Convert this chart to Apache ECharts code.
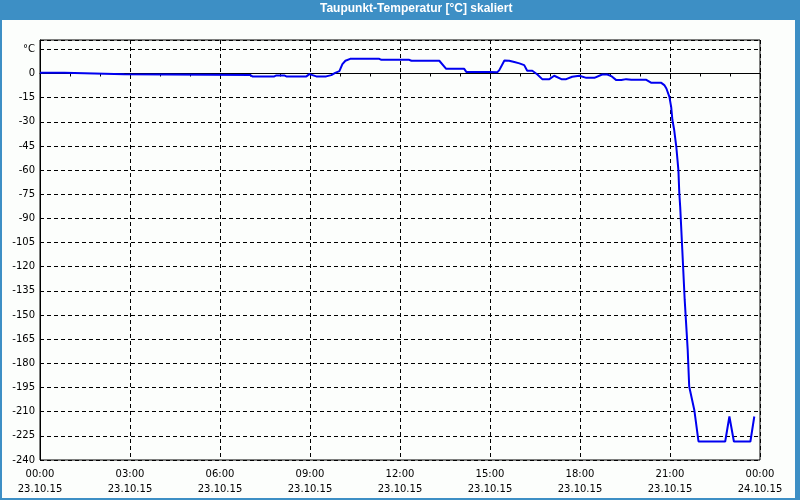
<!DOCTYPE html>
<html>
<head>
<meta charset="utf-8">
<script src="https://cdn.jsdelivr.net/npm/echarts@6/dist/echarts.min.js"></script>
<style>
html,body{margin:0;padding:0;background:#3d8fc5;}
#chart{width:800px;height:500px;}
</style>
</head>
<body>
<div id="chart"></div>
<script>
// Time of day in hours (23.10.15 00:00 = 0, 24.10.15 00:00 = 24)
var hours = [0, 0.81, 0.84, 2.81, 2.84, 7.01, 7.08, 7.81, 7.88, 8.14,
  8.21, 8.88, 8.98, 9.21, 9.54, 9.71, 9.84, 9.98, 10.08, 10.18,
  10.34, 11.31, 11.38, 12.31, 12.38, 13.31, 13.54, 14.14, 14.21, 14.98,
  15.04, 15.24, 15.31, 15.48, 15.64, 15.81, 15.98, 16.14, 16.24, 16.41,
  16.58, 16.74, 16.98, 17.14, 17.38, 17.54, 17.74, 17.98, 18.21, 18.48,
  18.74, 18.91, 19.04, 19.21, 19.38, 19.54, 19.71, 20.21, 20.38, 20.71,
  20.81, 20.88, 20.98, 21.04, 21.08, 21.14, 21.21, 21.28, 21.31, 21.34,
  21.41, 21.49, 21.59, 21.64, 21.81, 21.95, 22.84, 22.98, 23.13, 23.68,
  23.81];
// Dew point temperature (°C)
var dewPoint = [0.4, 0.4, -0.4, -0.4, -1.0, -1.0, -1.8, -1.8, -1.2, -1.2,
  -1.8, -1.8, -0.4, -1.8, -1.8, -1.0, 0.4, 1.5, 5.8, 7.9,
  9.1, 9.1, 8.5, 8.5, 7.9, 7.9, 2.9, 2.9, 1.0, 1.0,
  0.7, 0.7, 2.1, 8.1, 7.9, 7.1, 6.3, 5.2, 1.7, 1.7,
  -0.6, -3.5, -3.5, -1.4, -3.5, -3.5, -2.0, -1.4, -2.7, -2.7,
  -0.6, -0.6, -1.6, -4.1, -4.1, -3.5, -3.9, -3.9, -5.8, -5.8,
  -7.2, -9.3, -14.5, -20.9, -28.9, -35.1, -45.5, -60, -74.3, -82.8,
  -109.6, -140.6, -171.6, -194.4, -208.9, -228.5, -228.5, -213, -228.5, -228.5,
  -213];
var startDate = '23.10.15';
var endDate = '24.10.15';
var unitLabel = '°C';
var titleText = 'Taupunkt-Temperatur [°C] skaliert';

var seriesData = hours.map(function (h, i) { return [h, dewPoint[i]]; });

function pad(n) { return (n < 10 ? '0' : '') + n; }

var chart = echarts.init(document.getElementById('chart'), null, {renderer: 'canvas'});
var labelFont = {fontFamily: 'DejaVu Sans', fontSize: 10, color: '#000'};
chart.setOption({
  animation: false,
  backgroundColor: '#3d8fc5',
  title: {
    text: titleText,
    left: 320,
    top: 3,
    padding: 0,
    textStyle: {color: '#fff', fontFamily: 'Liberation Sans', fontWeight: 'bold', fontSize: 12}
  },
  graphic: [{
    type: 'rect',
    z: -100,
    silent: true,
    shape: {x: 2, y: 20, width: 793, height: 478},
    style: {fill: '#fcfefc'}
  }],
  grid: {
    left: 40, right: 40, top: 40, bottom: 40,
    show: true, borderColor: '#000', borderWidth: 1,
    backgroundColor: 'transparent'
  },
  xAxis: {
    type: 'value',
    min: 0, max: 24, interval: 3,
    axisLine: {show: true, lineStyle: {color: '#000', width: 1}},
    axisTick: {show: true, length: 3, lineStyle: {color: '#000'}},
    minorTick: {show: true, splitNumber: 3, length: 3, lineStyle: {color: '#000'}},
    splitLine: {show: true, lineStyle: {color: '#000', type: [4, 3], width: 1}},
    axisLabel: Object.assign({
      margin: 7,
      lineHeight: 15,
      showMinLabel: true, showMaxLabel: true,
      formatter: function (v) {
        var h = Math.round(v);
        return pad(h % 24) + ':00\n' + (h < 24 ? startDate : endDate);
      }
    }, labelFont)
  },
  yAxis: {
    type: 'value',
    min: -240, max: 20.8, interval: 15,
    axisLine: {show: true, lineStyle: {color: '#000', width: 1}},
    axisTick: {show: false},
    splitLine: {show: true, lineStyle: {color: '#000', type: [4, 3], width: 1}},
    axisLabel: Object.assign({
      margin: 5,
      showMaxLabel: false,
      formatter: function (v) {
        if (Math.abs(v - 15) < 1e-6) return unitLabel;
        if (Math.abs(v % 15) > 1e-6) return '';
        return String(Math.round(v));
      }
    }, labelFont)
  },
  series: [{
    type: 'line',
    data: seriesData,
    showSymbol: false,
    symbol: 'none',
    lineStyle: {color: '#0000f0', width: 2},
    z: 5
  }]
});
</script>
</body>
</html>
